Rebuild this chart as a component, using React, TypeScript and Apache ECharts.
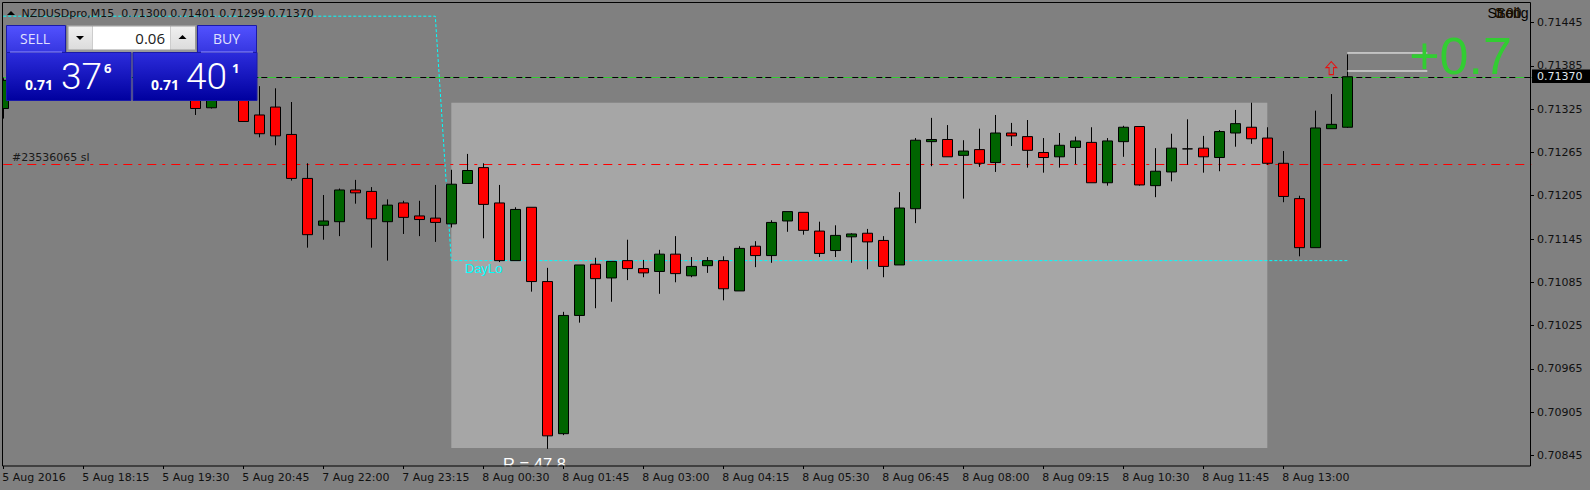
import React, { useEffect, useRef } from "react";
import * as echarts from "echarts";

const tickLabels = ["5 Aug 2016","5 Aug 18:15","5 Aug 19:30","5 Aug 20:45","7 Aug 22:00","7 Aug 23:15","8 Aug 00:30","8 Aug 01:45","8 Aug 03:00","8 Aug 04:15","8 Aug 05:30","8 Aug 06:45","8 Aug 08:00","8 Aug 09:15","8 Aug 10:30","8 Aug 11:45","8 Aug 13:00"];
const priceTicks = [0.71445,0.71385,0.71325,0.71265,0.71205,0.71145,0.71085,0.71025,0.70965,0.70905,0.70845];

// bars 1-11 and 14 are entirely hidden behind the trade panel
const opens = [0.71326,null,null,null,null,null,null,null,null,null,null,null,0.71345,0.71327,null,0.71345,0.71317,0.71328,0.7129,0.71229,0.71164,0.71169,0.71213,0.71211,0.71169,0.71195,0.71177,0.71174,0.71166,0.71222,0.71244,0.71195,0.71115,0.71189,0.71086,0.70875,0.71039,0.7111,0.71091,0.71115,0.71104,0.711,0.71124,0.71094,0.71108,0.71115,0.71073,0.71135,0.71122,0.7117,0.71182,0.71156,0.71129,0.71148,0.71153,0.71143,0.71109,0.71187,0.7128,0.71283,0.71261,0.71269,0.71251,0.71292,0.71287,0.71265,0.71259,0.71272,0.71279,0.71223,0.7128,0.71301,0.71219,0.71238,0.7127,0.71271,0.71258,0.71292,0.713,0.71285,0.7125,0.71201,0.71133,0.71298,0.713];
const closes = [0.71365,null,null,null,null,null,null,null,null,null,null,null,0.71326,0.71345,null,0.71308,0.71291,0.71288,0.71229,0.71151,0.7117,0.71213,0.71209,0.71173,0.71192,0.71175,0.71172,0.71168,0.71221,0.7124,0.71193,0.71115,0.71186,0.71086,0.70872,0.71039,0.71109,0.7109,0.71114,0.71104,0.71098,0.71124,0.71097,0.71107,0.71115,0.71076,0.71132,0.71122,0.71168,0.71183,0.71157,0.71125,0.7115,0.71152,0.71141,0.71107,0.71188,0.71282,0.71283,0.71259,0.71267,0.7125,0.71292,0.71288,0.71268,0.71258,0.71275,0.71281,0.71223,0.71281,0.713,0.7122,0.71239,0.71271,0.7127,0.71259,0.71294,0.71305,0.71284,0.7125,0.71204,0.71133,0.71299,0.71304,0.7137];
const lows = [0.71312,null,null,null,null,null,null,null,null,null,null,null,0.71317,0.71326,null,0.71308,0.71286,0.71275,0.71226,0.71133,0.71144,0.71149,0.71194,0.71133,0.71115,0.71152,0.71149,0.71141,0.71161,0.71222,0.71146,0.71113,0.71115,0.71072,0.70854,0.70873,0.71029,0.71049,0.71058,0.71088,0.71092,0.71069,0.71085,0.71092,0.71098,0.7106,0.71073,0.71106,0.71112,0.71155,0.71151,0.7112,0.7112,0.71112,0.71103,0.71092,0.71109,0.71167,0.71246,0.71259,0.71201,0.71245,0.71238,0.71274,0.71244,0.71237,0.71244,0.71249,0.71223,0.71219,0.71259,0.71219,0.71203,0.71225,0.71248,0.71237,0.71239,0.71273,0.71277,0.71248,0.71196,0.71121,0.71133,0.71298,0.71299];
const highs = [0.71368,null,null,null,null,null,null,null,null,null,null,null,0.71352,0.7135,null,0.71352,0.71357,0.71354,0.71335,0.7125,0.71206,0.71215,0.71227,0.71217,0.712,0.71198,0.71198,0.7122,0.71241,0.71263,0.7125,0.7122,0.71189,0.71189,0.71105,0.71044,0.71109,0.71119,0.71114,0.71144,0.71116,0.7113,0.71149,0.7112,0.7112,0.71121,0.71135,0.71142,0.71171,0.71183,0.71182,0.71169,0.71164,0.71153,0.71159,0.71149,0.7121,0.71285,0.71313,0.71303,0.71282,0.71298,0.71317,0.71306,0.7131,0.71285,0.71292,0.71287,0.713,0.71285,0.71302,0.71301,0.71271,0.71291,0.71311,0.71288,0.71296,0.71324,0.71334,0.713,0.71267,0.71205,0.71323,0.71346,0.71401];

const slotCount = 96;
const barCount = opens.length;
const previousDayLow = 0.71454;
const dayLow = 0.71115;
const dayLowStart = 28;
const stopLoss = 0.71249;
const lastPrice = 0.7137;
const rangeHigh = 0.71334;
const rangeLow = 0.70855;
const rangeStart = 28;
const rangeEnd = 79;
const levelHigh = 0.71403;
const levelLow = 0.71378;
const levelStart = 84;
const levelEnd = 89;
const arrowIndex = 83;
const arrowPrice = 0.71382;

const categories = Array.from({ length: slotCount }, (_, i) => (i % 5 === 0 ? tickLabels[i / 5] ?? "" : ""));
const candles = opens.map((o, i) => (o == null ? "-" : [o, closes[i], lows[i], highs[i]]));
const cyanLine = Array.from({ length: barCount }, (_, i) => [i, i < dayLowStart ? previousDayLow : dayLow]);

const GRAY = "#808080";
const tickShown = (i: number) => i % 5 === 0 && i <= 80;

function t(x: number, y: number, text: string, font: string, fill: string, textAlign = "left", z = 30) {
  return { type: "text", x, y, z, silent: true, style: { text, font, fill, textAlign, textVerticalAlign: "middle" } };
}
function r(x: number, y: number, width: number, height: number, fill: any, stroke?: string, z = 28) {
  return { type: "rect", z, silent: true, shape: { x, y, width, height }, style: { fill, stroke, lineWidth: stroke ? 1 : 0 } };
}
function grad(a: string, b: string) {
  return new echarts.graphic.LinearGradient(0, 0, 0, 1, [{ offset: 0, color: a }, { offset: 1, color: b }]);
}
function tri(points: number[][], fill = "#000", z = 30) {
  return { type: "polygon", z, silent: true, shape: { points }, style: { fill } };
}

export default function App() {
  const ref = useRef<HTMLDivElement>(null);
  useEffect(() => {
    const chart = echarts.init(ref.current!, undefined, { renderer: "svg" });
    const sansUi = '"Open Sans"';
    const axisFont = '"DejaVu Sans"';
    const header = grad("#5252ff", "#3636e0");
    const price = grad("#2c2cdc", "#00009e");
    const button = grad("#f0f0f0", "#dcdcdc");
    chart.setOption({
      animation: false,
      backgroundColor: GRAY,
      grid: { left: -4.7, top: 3, width: 1536, height: 463, outerBoundsMode: "none" },
      xAxis: {
        type: "category",
        data: categories,
        boundaryGap: true,
        z: 20,
        axisLine: { show: false },
        axisTick: { show: true, alignWithLabel: true, interval: (i: number) => tickShown(i), length: 3, lineStyle: { color: "#000" } },
        axisLabel: { interval: (i: number) => tickShown(i), align: "left", margin: 6, color: "#101010", fontSize: 11, fontFamily: axisFont, showMinLabel: true, padding: [0, 0, 0, -1] },
        splitLine: { show: false },
      },
      yAxis: {
        type: "value",
        position: "right",
        offset: -1.3,
        min: 0.708302,
        max: 0.714723,
        axisLine: { show: false },
        axisTick: { show: true, customValues: priceTicks, length: 4, lineStyle: { color: "#000" } },
        axisLabel: { customValues: priceTicks, formatter: (v: number) => v.toFixed(5), margin: 7, color: "#101010", fontSize: 11, fontFamily: axisFont },
        splitLine: { show: false },
      },
      series: [
        {
          name: "Range",
          type: "line",
          z: 1,
          data: [],
          silent: true,
          markArea: {
            silent: true,
            itemStyle: { color: "#a6a6a6" },
            data: [[{ xAxis: rangeStart, yAxis: rangeHigh }, { xAxis: rangeEnd, yAxis: rangeLow }]],
          },
        },
        {
          name: "DayLo",
          type: "line",
          z: 3,
          data: cyanLine,
          symbol: "none",
          silent: true,
          lineStyle: { color: "#00ffff", width: 1, type: [3, 2] },
          markLine: {
            silent: true,
            symbol: "none",
            precision: 5,
            label: { show: false },
            animation: false,
            data: [
              { yAxis: stopLoss, lineStyle: { color: "#ff0000", width: 1, type: [9, 6, 3, 6], dashOffset: 16.3 } },
              { yAxis: lastPrice, lineStyle: { color: "#000000", width: 1, type: "solid" } },
              { yAxis: lastPrice, lineStyle: { color: "#32cd32", width: 1, type: [9, 6, 3, 6], dashOffset: 16.3 } },
            ],
          },
        },
        {
          name: "NZDUSDpro",
          type: "candlestick",
          z: 5,
          barWidth: 10,
          data: candles,
          silent: true,
          itemStyle: { color: "#006400", color0: "#ff0000", borderColor: "#000000", borderColor0: "#000000", borderColorDoji: "#000000", borderWidth: 1 },
        },
        ...[levelHigh, levelLow].map((v) => ({
          type: "line",
          z: 6,
          symbol: "none",
          silent: true,
          data: [[levelStart, v], [levelEnd, v]],
          lineStyle: { color: "#ffffff", width: 1 },
        })),
        {
          name: "Signal",
          type: "scatter",
          z: 6,
          silent: true,
          symbol: "path://M5 0 L10 6 L7 6 L7 13 L3 13 L3 6 L0 6 Z",
          symbolSize: [11, 13],
          data: [[arrowIndex, arrowPrice]],
          itemStyle: { color: "rgba(0,0,0,0)", borderColor: "#e81010", borderWidth: 1, opacity: 1 },
        },
      ],
      graphic: [
        r(0, 0, 2, 490, GRAY, undefined, 8),
        t(534.5, 463.5, "R = 47.8", '16.5px "Liberation Sans"', "#ffffff", "center", 10),
        r(0, 466.5, 1590, 24, GRAY, undefined, 11),
        { type: "rect", z: 12, silent: true, shape: { x: 2.5, y: 2.5, width: 1528, height: 463.5 }, style: { fill: "none", stroke: "#000", lineWidth: 1 } },
        t(12, 157.5, "#23536065 sl", `11px ${axisFont}`, "#1a1a1a", "left", 7),
        t(465, 268.5, "DayLo", '13px "Liberation Sans"', "#00ffff", "left", 7),
        t(1460.5, 56, "+0.7", '52px "Liberation Sans"', "#32cd32", "center", 9),
        // overlapping signal labels, top right
        t(1508, 13, "Strong", '14px "Liberation Sans"', "#000", "center", 9),
        t(1508, 13, "Sell", '14px "Liberation Sans"', "#1a1000", "center", 9),
        t(1508, 13, "0.00", '14px "Liberation Sans"', "#201000", "center", 9),
        // title
        tri([[7, 15], [15, 15], [11, 11]]),
        t(21.5, 13, "NZDUSDpro,M15  0.71300 0.71401 0.71299 0.71370", `11px ${axisFont}`, "#101010"),
        // trade panel
        r(6.5, 25.5, 59, 27, header, "#1a1aa8"),
        r(197.5, 25.5, 59, 27, header, "#1a1aa8"),
        r(6.5, 52.5, 124.5, 48, price, "#1a1aa8"),
        r(133, 52.5, 124, 48, price, "#1a1aa8"),
        r(67, 25, 129.5, 27, "#9a9a9a", undefined, 28),
        r(68.5, 26.5, 23.5, 23, button, undefined, 29),
        r(92.5, 26.5, 78, 23, "#ffffff", undefined, 29),
        r(171, 26.5, 24, 23, button, undefined, 29),
        tri([[76, 36], [84, 36], [80, 40]]),
        tri([[178.5, 39], [186.5, 39], [182.5, 35]]),
        { type: "line", z: 30, silent: true, shape: { x1: 10, y1: 52, x2: 62, y2: 52 }, style: { stroke: "#9090ff", lineWidth: 1 } },
        { type: "line", z: 30, silent: true, shape: { x1: 201, y1: 52, x2: 253, y2: 52 }, style: { stroke: "#9090ff", lineWidth: 1 } },
        t(35, 38.5, "SELL", `14px ${sansUi}`, "#e0e0ff", "center"),
        t(226.5, 38.5, "BUY", `14px ${sansUi}`, "#e0e0ff", "center"),
        t(165, 38, "0.06", `15px ${sansUi}`, "#202020", "right"),
        t(25, 84.5, "0.71", `bold 14px ${sansUi}`, "#ffffff"),
        t(61, 76, "37", `300 37px Roboto`, "#ffffff"),
        t(104, 67.5, "6", `bold 13px ${sansUi}`, "#ffffff"),
        t(151, 84.5, "0.71", `bold 14px ${sansUi}`, "#ffffff"),
        t(186, 76, "40", `300 37px Roboto`, "#ffffff"),
        t(232, 67.5, "1", `bold 13px ${sansUi}`, "#ffffff"),
        // current price tag
        r(1532, 69.5, 58, 13.5, "#000000", undefined, 28),
        t(1537, 76.5, "0.71370", `11px ${axisFont}`, "#dfe6ee"),
      ],
    });
    return () => chart.dispose();
  }, []);
  return <div ref={ref} style={{ position: "absolute", left: 0, top: 0, width: 1590, height: 490 }} />;
}
